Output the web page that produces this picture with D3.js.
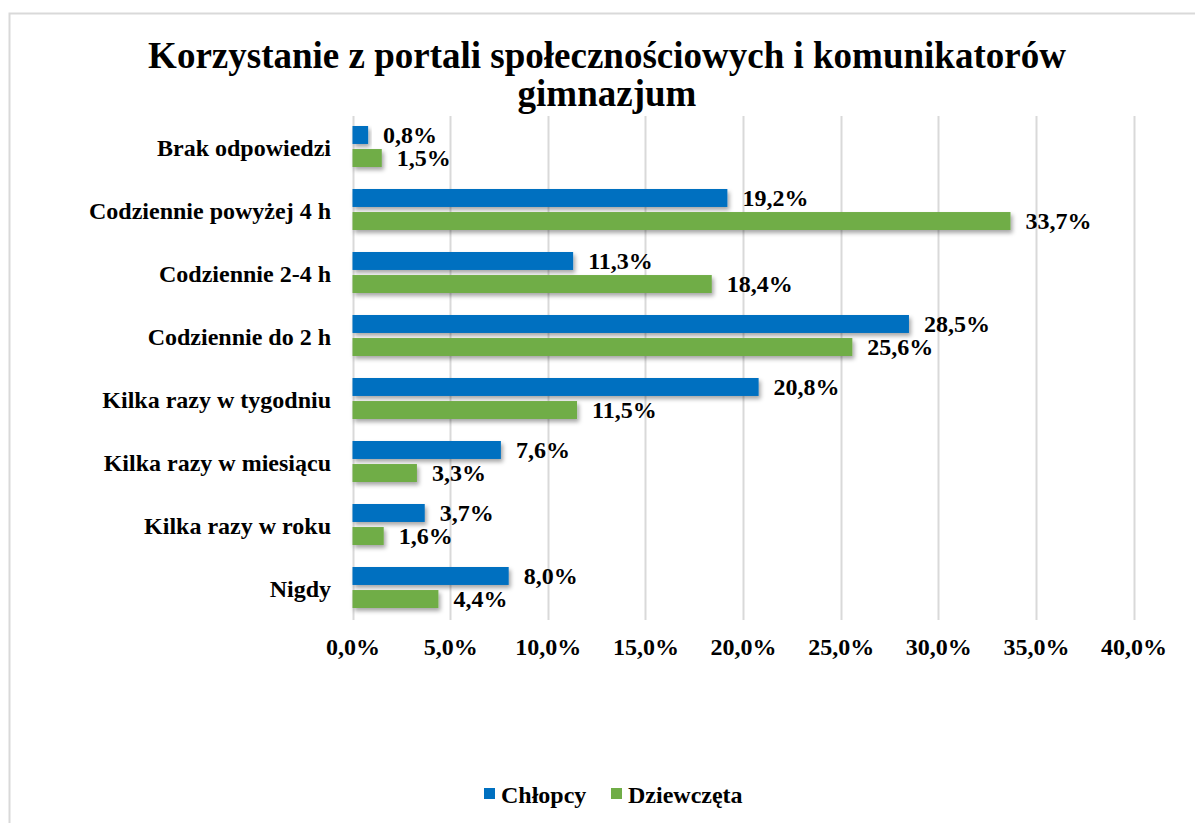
<!DOCTYPE html>
<html><head><meta charset="utf-8">
<script src="https://cdn.jsdelivr.net/npm/d3@7"></script>
<style>body{margin:0;background:#fff}svg{display:block}text{font-family:"Liberation Serif","Times New Roman",serif;font-weight:bold;fill:#000}</style>
</head><body><svg id="c" width="1195" height="823"></svg>
<script>
const categories = ["Brak odpowiedzi","Codziennie powyżej 4 h","Codziennie 2-4 h","Codziennie do 2 h","Kilka razy w tygodniu","Kilka razy w miesiącu","Kilka razy w roku","Nigdy"];
const seriesNames = ["Chłopcy","Dziewczęta"];
const chlopcy = [0.8,19.2,11.3,28.5,20.8,7.6,3.7,8.0];
const dziewczeta = [1.5,33.7,18.4,25.6,11.5,3.3,1.6,4.4];
const tickValues = [0,5,10,15,20,25,30,35,40];
const colors = ["#0070C0","#70AD47"];
const titleLines = ["Korzystanie z portali społecznościowych i komunikatorów","gimnazjum"];

const svg = d3.select("#c");
const loc = d3.formatLocale({decimal:",",thousands:" ",grouping:[3],currency:["","zł"]});
const f1 = loc.format(".1f");

// chart border
svg.append("rect").attr("x",9.5).attr("y",13.5).attr("width",1200).attr("height",830)
  .attr("fill","none").attr("stroke","#d9d9d9").attr("stroke-width",2);

const defs = svg.append("defs");
const flt = defs.append("filter").attr("id","sh").attr("x","-10%").attr("y","-30%").attr("width","130%").attr("height","190%");
flt.append("feDropShadow").attr("dx",2).attr("dy",3).attr("stdDeviation",2).attr("flood-color","#000").attr("flood-opacity",0.35);

const x = d3.scaleLinear().domain([0,40]).range([352.5,1133.5]);
const y = d3.scaleBand().domain(categories).range([116,620]);
const ys = d3.scaleBand().domain(seriesNames).range([10,51]).paddingInner(0.22);

// title
svg.append("g").selectAll("text").data(titleLines).join("text")
  .attr("x",607).attr("y",(d,i)=>68+i*38).attr("text-anchor","middle")
  .style("font-size","37px").text(d=>d);

// gridlines
svg.append("g").selectAll("line").data(tickValues).join("line")
  .attr("x1",d=>Math.round(x(d))+0.5).attr("x2",d=>Math.round(x(d))+0.5)
  .attr("y1",116).attr("y2",620).attr("stroke","#d9d9d9").attr("stroke-width",2);

// x axis labels
const xa = svg.append("g").attr("transform","translate(0,620)")
  .call(d3.axisBottom(x).tickValues(tickValues).tickSize(0).tickPadding(0).tickFormat(d=>f1(d)+"%"));
xa.select(".domain").remove();
xa.selectAll("text").attr("dy",null).attr("y",35).style("font-size","24px").attr("font-family",null);

// y axis labels
const ya = svg.append("g").attr("transform","translate(331,0)")
  .call(d3.axisLeft(y).tickSize(0).tickPadding(0));
ya.select(".domain").remove();
ya.selectAll("text").attr("dy","0.35em").attr("x",0).style("font-size","24px").attr("font-family",null);

const data = [chlopcy,dziewczeta];
seriesNames.forEach((s,si)=>{
  const g = svg.append("g");
  g.selectAll("rect").data(categories).join("rect")
    .attr("x",x(0)).attr("y",c=>y(c)+ys(s))
    .attr("width",(c,i)=>x(data[si][i])-x(0)).attr("height",ys.bandwidth())
    .attr("fill",colors[si]).attr("filter","url(#sh)");
  g.selectAll("text").data(categories).join("text")
    .attr("x",(c,i)=>x(data[si][i])+15).attr("y",c=>y(c)+ys(s)+ys.bandwidth()/2+8)
    .style("font-size","24px").text((c,i)=>f1(data[si][i])+"%");
});

// legend
const lg = svg.append("g");
const lx = [484,611];
seriesNames.forEach((s,i)=>{
  lg.append("rect").attr("x",lx[i]).attr("y",788).attr("width",11).attr("height",11).attr("fill",colors[i]);
  lg.append("text").attr("x",lx[i]+17).attr("y",803).style("font-size","24px").text(s);
});
</script></body></html>
